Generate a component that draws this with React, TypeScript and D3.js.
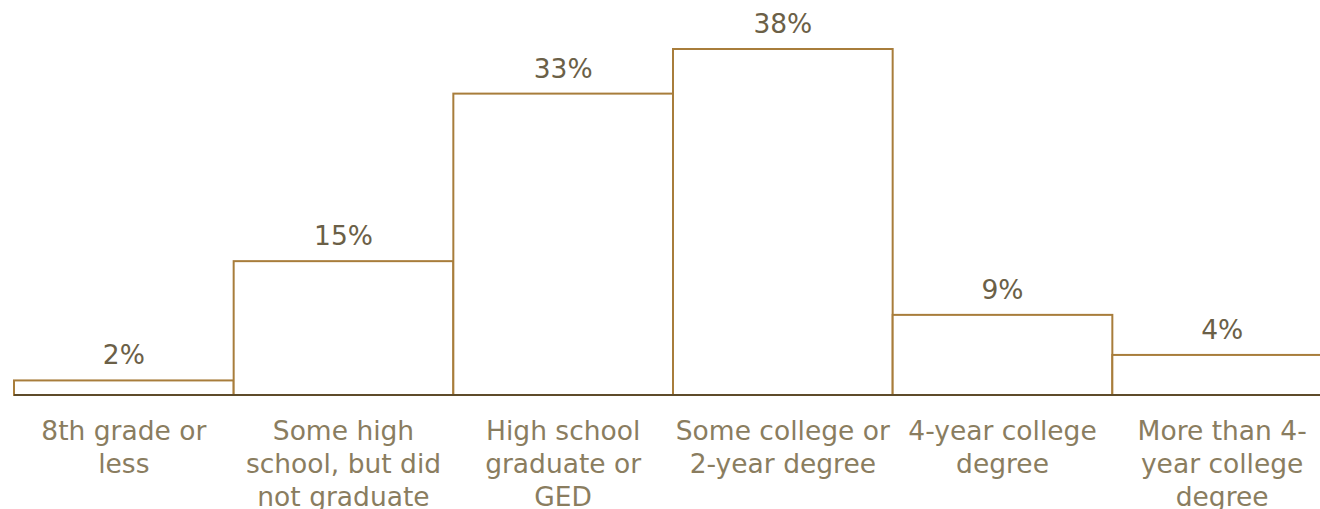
import React from "react";
import * as d3 from "d3";

const categories = [
  "8th grade or less",
  "Some high school, but did not graduate",
  "High school graduate or GED",
  "Some college or 2-year degree",
  "4-year college degree",
  "More than 4-year college degree",
];
const categoryLines = [
  ["8th grade or", "less"],
  ["Some high", "school, but did", "not graduate"],
  ["High school", "graduate or", "GED"],
  ["Some college or", "2-year degree"],
  ["4-year college", "degree"],
  ["More than 4-", "year college", "degree"],
];
const values = [1.6, 14.7, 33.1, 38.0, 8.8, 4.4];
const valueLabels = ["2%", "15%", "33%", "38%", "9%", "4%"];

const W = 1320;
const H = 509;
const FONT = "Verdana, 'DejaVu Sans', sans-serif";

export default function App() {
  const x = d3.scaleBand<string>().domain(categories).range([14, 1332]).padding(0);
  const baseY = 395;
  const y = d3.scaleLinear().domain([0, 38]).range([baseY, 49]);
  const bw = x.bandwidth();
  return (
    <svg width={W} height={H} style={{ position: "absolute", left: 0, top: 0 }}>
      <rect width={W} height={H} fill="#ffffff" />
      {categories.map((c, i) => (
        <rect
          key={c}
          x={x(c)!}
          y={y(values[i])}
          width={bw}
          height={baseY - y(values[i])}
          fill="#ffffff"
          stroke="#a87d3b"
          strokeWidth={2}
        />
      ))}
      <line x1={14} x2={W} y1={baseY} y2={baseY} stroke="#5e4b2a" strokeWidth={2} />
      {categories.map((c, i) => (
        <text
          key={"v" + c}
          x={x(c)! + bw / 2}
          y={y(values[i]) - 16}
          textAnchor="middle"
          fontFamily={FONT}
          fontSize={26.5}
          fill="#6b6047"
        >
          {valueLabels[i]}
        </text>
      ))}
      {categories.map((c, i) => (
        <text
          key={"c" + c}
          textAnchor="middle"
          fontFamily={FONT}
          fontSize={26.5}
          fill="#8a7d5f"
        >
          {categoryLines[i].map((l, j) => (
            <tspan key={j} x={x(c)! + bw / 2} y={440 + j * 33}>
              {l}
            </tspan>
          ))}
        </text>
      ))}
    </svg>
  );
}
